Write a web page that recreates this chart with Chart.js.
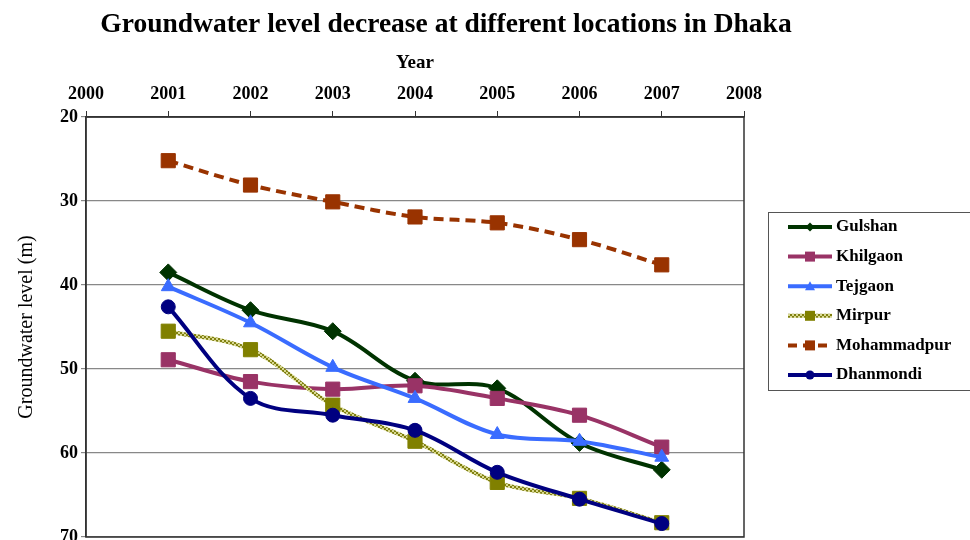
<!DOCTYPE html>
<html>
<head>
<meta charset="utf-8">
<script src="https://cdn.jsdelivr.net/npm/chart.js@4/dist/chart.umd.min.js"></script>
<style>
  html, body { margin: 0; padding: 0; background: #fff; overflow: hidden; }
  #wrap { width: 970px; height: 540px; overflow: hidden; }
</style>
</head>
<body>
<div id="wrap"><canvas id="gwChart" width="970" height="560"></canvas></div>
<script>
/* ── data ── */
const chartTitle = 'Groundwater level decrease at different locations in Dhaka';
const years = [2001, 2002, 2003, 2004, 2005, 2006, 2007];
const yearRange = [2000, 2008];
const levelRange = [20, 70];

const locations = ['Gulshan', 'Khilgaon', 'Tejgaon', 'Mirpur', 'Mohammadpur', 'Dhanmondi'];
const gulshan     = [38.5, 43.0, 45.5, 51.4, 52.3, 58.8, 62.0];
const khilgaon    = [48.9, 51.5, 52.4, 52.0, 53.5, 55.5, 59.3];
const tejgaon     = [40.2, 44.5, 49.8, 53.5, 57.8, 58.6, 60.5];
const mirpur      = [45.5, 47.7, 54.3, 58.6, 63.5, 65.4, 68.3];
const mohammadpur = [25.2, 28.1, 30.1, 31.9, 32.6, 34.6, 37.6];
const dhanmondi   = [42.6, 53.5, 55.5, 57.3, 62.3, 65.5, 68.4];
const levels = [gulshan, khilgaon, tejgaon, mirpur, mohammadpur, dhanmondi];

const SERIF = '"Liberation Serif", "DejaVu Serif", serif';

/* ===================== braided olive line (Mirpur) ===================== */
function braidPattern() {
    const p = document.createElement('canvas');
    p.width = 4; p.height = 4;
    const g = p.getContext('2d');
    g.fillStyle = '#d8d890';
    g.fillRect(0, 0, 4, 4);
    g.fillStyle = '#808010';
    g.fillRect(0, 0, 2, 2);
    g.fillRect(2, 2, 2, 2);
    return g.createPattern(p, 'repeat');
}

/* ===================== series styles ===================== */
const styles = [
    { line: '#003300', point: '#003300', shape: 'rectRot', r: 8.5, dash: [] },
    { line: '#993366', point: '#993366', shape: 'rect',    r: 10,  dash: [] },
    { line: '#3a6cff', point: '#3a6cff', shape: 'triangle', r: 8, dash: [] },
    { line: braidPattern(), point: '#808000', shape: 'rect', r: 10, dash: [] },
    { line: '#993300', point: '#993300', shape: 'rect',    r: 10,  dash: [10, 6] },
    { line: '#000080', point: '#000080', shape: 'circle',  r: 7,   dash: [] }
];

const datasets = locations.map((name, i) => ({
    label: name,
    data: years.map((y, k) => ({ x: y, y: levels[i][k] })),
    borderColor: styles[i].line,
    backgroundColor: styles[i].point,
    pointBackgroundColor: styles[i].point,
    pointBorderColor: styles[i].point,
    pointBorderWidth: 1,
    pointStyle: styles[i].shape,
    pointRadius: styles[i].r,
    borderWidth: 4,
    borderDash: styles[i].dash,
    tension: 0.35,
    order: locations.length - i
}));

/* ===================== title / frame / legend plugins ===================== */
const titlePlugin = {
    id: 'sheetTitle',
    afterDraw(chart) {
        const ctx = chart.ctx;
        ctx.save();
        ctx.font = 'bold 27.5px ' + SERIF;
        ctx.fillStyle = '#000';
        ctx.textAlign = 'center';
        ctx.textBaseline = 'middle';
        ctx.fillText(chartTitle, 446, 25);
        ctx.restore();
    }
};

const framePlugin = {
    id: 'plotFrame',
    beforeDatasetsDraw(chart) {
        const a = chart.chartArea, ctx = chart.ctx;
        ctx.save();
        ctx.strokeStyle = '#333';
        ctx.lineWidth = 1.5;
        ctx.strokeRect(a.left, a.top, a.right - a.left, a.bottom - a.top);
        ctx.restore();
    }
};

function marker(ctx, shape, x, y, r, color) {
    ctx.fillStyle = color;
    ctx.beginPath();
    if (shape === 'circle') {
        ctx.arc(x, y, r, 0, Math.PI * 2);
    } else if (shape === 'rect') {
        ctx.rect(x - r, y - r, 2 * r, 2 * r);
    } else if (shape === 'rectRot') {
        ctx.moveTo(x, y - r); ctx.lineTo(x + r, y); ctx.lineTo(x, y + r); ctx.lineTo(x - r, y);
    } else {
        ctx.moveTo(x, y - r); ctx.lineTo(x + r, y + r * 0.8); ctx.lineTo(x - r, y + r * 0.8);
    }
    ctx.closePath();
    ctx.fill();
}

const legendPlugin = {
    id: 'boxLegend',
    afterDraw(chart) {
        const ctx = chart.ctx;
        ctx.save();
        ctx.strokeStyle = '#555';
        ctx.lineWidth = 1;
        ctx.strokeRect(768.5, 212.5, 220, 178);
        chart.data.datasets.forEach((ds, i) => {
            const y = 227 + i * 29.6;
            ctx.strokeStyle = ds.borderColor;
            ctx.lineWidth = 4;
            ctx.setLineDash(ds.borderDash.length ? [9, 6] : []);
            ctx.beginPath();
            ctx.moveTo(788, y);
            ctx.lineTo(832, y);
            ctx.stroke();
            ctx.setLineDash([]);
            const s = ds.pointStyle;
            marker(ctx, s, 810, y, s === 'rectRot' ? 4.5 : (s === 'circle' ? 4.5 : 5), ds.pointBackgroundColor);
            ctx.fillStyle = '#000';
            ctx.font = 'bold 17px ' + SERIF;
            ctx.textAlign = 'left';
            ctx.textBaseline = 'middle';
            ctx.fillText(ds.label, 836, y);
        });
        ctx.restore();
    }
};

/* ===================== chart ===================== */
const ctx = document.getElementById('gwChart').getContext('2d');
new Chart(ctx, {
    type: 'line',
    data: { datasets },
    plugins: [framePlugin, titlePlugin, legendPlugin],
    options: {
        responsive: false,
        animation: false,
        layout: { padding: { left: 0, top: 0, right: 226, bottom: 23 } },
        plugins: {
            legend: { display: false },
            title: { display: false },
            tooltip: { enabled: false }
        },
        scales: {
            x: {
                type: 'linear',
                position: 'top',
                min: yearRange[0],
                max: yearRange[1],
                afterFit(scale) { scale.height = 117; },
                ticks: {
                    stepSize: 1,
                    color: '#000',
                    padding: 6,
                    font: { family: SERIF, size: 18, weight: 'bold' },
                    callback: v => String(v)
                },
                grid: { drawOnChartArea: false, drawTicks: true, tickLength: 6, color: '#333' },
                border: { display: true, color: '#333', width: 1.5 },
                title: {
                    display: true,
                    text: 'Year',
                    color: '#000',
                    font: { family: SERIF, size: 19, weight: 'bold' },
                    padding: { top: 52, bottom: 0 }
                }
            },
            y: {
                reverse: true,
                min: levelRange[0],
                max: levelRange[1],
                afterFit(scale) { scale.width = 86; },
                ticks: {
                    stepSize: 10,
                    color: '#000',
                    padding: 3,
                    font: { family: SERIF, size: 18, weight: 'bold' }
                },
                grid: { color: '#888', lineWidth: 1.2, tickLength: 5 },
                border: { display: true, color: '#333', width: 1.5 },
                title: {
                    display: true,
                    text: 'Groundwater level (m)',
                    color: '#000',
                    font: { family: SERIF, size: 20 },
                    padding: { top: 15, bottom: 0 }
                }
            }
        }
    }
});
</script>
</body>
</html>
